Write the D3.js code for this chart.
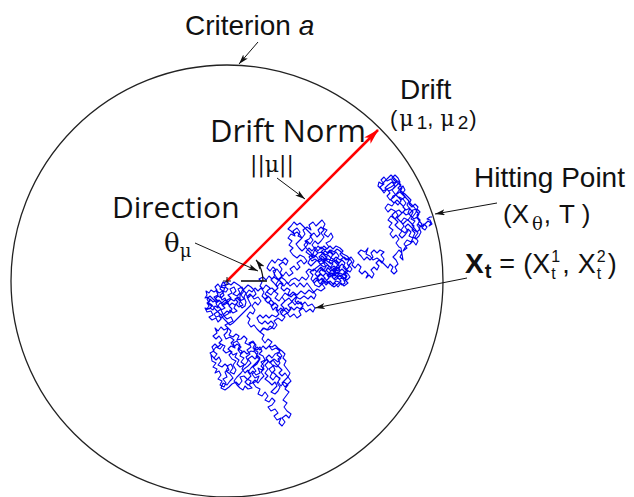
<!DOCTYPE html>
<html>
<head>
<meta charset="utf-8">
<script src="https://cdn.jsdelivr.net/npm/d3@7"></script>
<style>
  body { margin: 0; background: #fff; }
  svg { display: block; }
  text { white-space: pre; }
</style>
</head>
<body>
<svg id="fig" width="634" height="497"></svg>
<script>
// Criterion radius a (walk units), drift vector (mu1, mu2)
const criterion = 216;
const drift = [151, 151];

// Sample path X_t of the 2-D diffusion, from the origin to the boundary hit
const walk = [
  [0,0],[2,-3],[-1,-4],[-4,-1],[-6,-5],[-3,-7],[-7,-6],[-9,-3],[-12,-6],[-10,-9],[-13,-11],[-16,-9],[-18,-12],[-21,-10],[-20,-14],[-22,-17],[-19,-16],[-17,-20],[-20,-22],[-18,-25],[-21,-29],[-17,-27],[-14,-29],[-12,-25],[-9,-27],[-11,-22],[-8,-20],[-12,-18],[-9,-15],[-6,-17],[-3,-14],[-5,-10],[-1,-11],[1,-8],[-2,-6],[-4,-12],[-7,-14],[-5,-19],[-2,-17],[0,-22],[-3,-24],[-7,-22],[-9,-25],[-6,-28],[-10,-31],[-13,-33],[-11,-36],[-8,-35],[-5,-37],[-3,-33],[0,-30],[3,-32],[5,-28],[2,-25],[5,-22],[8,-24],[11,-21],[8,-18],[11,-16],[14,-19],[12,-23],[15,-27],[18,-25],[19,-21],[17,-16],[19,-12],[16,-9],[13,-5],[10,-3],[7,-1],[4,-4],[1,-2],
  [0,0],[-3,-2],[-1,-5],[-5,-4],[-7,-8],[-4,-10],[-8,-12],[-11,-9],[-9,-14],[-13,-16],[-10,-19],[-14,-21],[-17,-18],[-19,-23],[-15,-25],[-18,-28],[-22,-27],[-20,-31],[-16,-30],[-14,-34],[-18,-36],[-15,-39],[-11,-37],[-9,-41],[-6,-38],[-8,-34],[-4,-33],[-6,-29],[-2,-27],[-5,-24],[-1,-21],[2,-24],[0,-19],[4,-17],[1,-14],[5,-12],[3,-8],[7,-6],[9,-10],[6,-13],[10,-15],[13,-12],[11,-8],[15,-6],[17,-10],[14,-14],[17,-18],[13,-20],
  [10,-17],[7,-20],[4,-18],[1,-21],[-2,-19],[-5,-22],[-8,-19],[-11,-21],[-14,-18],[-17,-15],[-20,-18],[-18,-22],[-15,-24],[-12,-28],[-9,-31],[-6,-34],[-3,-38],[0,-41],[3,-44],[6,-42],[9,-39],[12,-36],[15,-33],[18,-30],[21,-27],[24,-24],[22,-20],[20,-16],[23,-13],[26,-16],[29,-13],[27,-9],[24,-6],[21,-4],[18,-7],[15,-10],[13,-14],[13,-20],
  [16,-24],[12,-26],[9,-23],[7,-27],[10,-30],[6,-32],[3,-29],[1,-33],[-3,-35],[0,-38],[4,-36],[6,-40],[2,-42],[-2,-44],[1,-47],
  [4,-50],[2,-54],[6,-56],[9,-53],[12,-55],[10,-59],[14,-58],[17,-55],[20,-58],[18,-62],[22,-64],[25,-61],[28,-63],[26,-67],[30,-69],[33,-66],[35,-70],[32,-73],[36,-75],[38,-79],[34,-81],[37,-85],[35,-89],[31,-87],[33,-92],[29,-94],[26,-90],[23,-93],[21,-89],[18,-92],[15,-88],[17,-84],[13,-86],[10,-83],[12,-79],[8,-76],[10,-72],[6,-74],[3,-70],[-1,-72],[-4,-69],[-2,-65],[-6,-63],[-9,-66],[-12,-63],[-15,-66],[-13,-70],[-17,-72],[-14,-76],[-11,-79],[-8,-76],[-6,-80],[-9,-84],[-5,-86],[-2,-83],[1,-86],[-1,-90],[3,-93],[6,-97],[3,-100],[0,-104],[-4,-102],[-6,-107],[-2,-109],[2,-106],[5,-103],[9,-101],[12,-104],[15,-100],[13,-96],[17,-95],[20,-98],[24,-100],[22,-104],[25,-107],[21,-108],[18,-105],[16,-109],[13,-107],[10,-104],[7,-100],[10,-96],[14,-92],[17,-88],[21,-85],[24,-82],[21,-78],[25,-75],[28,-78],[31,-75],[28,-71],[24,-70],[20,-73],[17,-70],[14,-73],[11,-69],[14,-66],[10,-63],[7,-66],[4,-62],[7,-59],[3,-56],[-1,-58],[-3,-54],[0,-51],[1,-47],
  [-3,-49],[-6,-46],[-9,-50],[-12,-47],[-10,-52],[-14,-55],[-11,-58],[-8,-55],[-5,-59],[-8,-62],[-4,-64],[-7,-68],[-11,-66],[-14,-70],[-10,-73],[-13,-77],[-16,-74],[-15,-80],[-11,-82],[-14,-86],[-10,-88],[-12,-92],[-8,-90],[-6,-94],[-9,-98],[-5,-100],[-7,-104],[-3,-106],[-1,-102],[-4,-98],[0,-96],[-2,-91],[2,-89],[0,-85],[4,-83],[6,-87],[3,-91],[7,-93],[9,-89],[6,-84],[9,-80],[5,-78],[2,-74],[5,-71],[1,-68],[4,-65],[8,-67],[6,-62],[10,-60],[13,-64],[11,-68],[15,-70],[13,-75],[17,-77],[14,-81],[18,-84],[21,-80],[19,-76],[23,-73],[20,-69],[24,-66],[22,-62],[26,-60],[29,-64],[27,-69],[31,-71],[29,-76],[33,-78],[30,-83],[26,-86],[29,-90],[25,-93],[28,-97],[32,-95],[30,-100],[26,-102],
  [29,-106],[33,-108],[31,-113],[35,-115],[38,-111],[41,-115],[38,-119],[42,-121],[45,-117],[48,-120],[45,-124],[41,-126],[44,-130],[48,-128],[51,-132],[47,-135],[50,-139],[54,-137],[52,-142],[55,-145],[58,-141],[55,-137],[59,-134],[62,-137],[64,-133],[60,-130],[57,-126],[60,-122],[56,-119],[59,-115],[62,-111],[58,-108],[61,-104],[57,-101],[54,-105],[51,-101],[53,-97],[49,-95],[46,-99],[43,-96],[45,-92],
  [48,-89],[46,-84],[50,-86],[53,-82],[51,-78],[55,-75],[52,-71],[48,-73],[45,-77],[42,-74],[39,-77],[41,-81],[38,-84],[41,-88],[38,-92],[41,-95],[38,-98],[42,-101],[45,-104],[48,-101],[50,-105],[47,-108],[44,-111],[48,-113],[51,-110],[53,-106],[50,-102],[53,-98],[50,-95],[47,-92],[45,-92],
  [42,-88],[46,-85],[43,-81],[47,-78],[51,-81],[54,-77],[50,-74],[53,-70],[49,-67],[45,-69],[42,-65],
  [39,-68],[36,-65],[33,-69],[30,-66],[27,-70],[30,-74],[33,-77],[30,-81],[27,-84],[24,-87],[21,-91],[24,-95],[21,-98],[18,-101],[21,-104],[25,-102],[28,-99],[31,-102],[34,-98],[37,-95],[34,-91],[37,-88],[34,-85],[37,-81],[40,-78],[43,-82],[46,-79],[49,-83],[52,-86],[55,-89],[52,-92],[55,-95],[58,-92],[61,-96],[58,-99],[55,-102],[58,-106],[61,-103],[64,-100],[61,-96],[63,-92],[60,-88],[57,-84],[59,-80],[56,-77],[58,-73],[55,-70],[51,-67],[48,-64],[45,-66],[42,-65],
  [45,-61],[41,-58],[38,-62],[35,-58],[37,-54],[33,-51],
  [30,-48],[27,-44],[24,-46],[21,-42],[23,-38],[20,-35],[23,-31],[26,-33],[28,-29],[25,-25],[28,-21],[31,-24],[34,-20],[31,-16],[27,-18],[24,-14],[21,-17],[19,-13],[22,-9],[25,-11],[28,-7],[31,-10],[34,-7],[37,-11],[35,-15],[38,-18],[41,-15],[44,-18],[42,-22],[45,-25],[48,-22],[51,-25],[49,-29],[52,-33],[49,-36],[45,-34],[42,-37],[39,-34],[36,-37],[33,-34],[30,-37],[32,-41],[35,-43],[38,-40],[41,-43],[44,-40],[47,-43],[45,-47],[41,-49],[37,-47],[33,-51],
  [36,-47],[40,-49],[43,-45],[47,-48],[50,-44],[47,-40],[51,-37],[55,-40],[58,-36],[54,-33],[57,-29],[61,-32],[64,-28],[61,-24],[65,-21],[62,-17],[58,-20],[55,-16],[52,-20],[48,-17],[51,-13],[47,-10],[44,-14],[40,-11],[43,-7],[39,-4],[36,-8],[33,-5],[35,-1],[32,2],[36,4],[39,1],[42,5],[45,2],[48,6],[46,10],[50,12],[53,8],
  [55,12],[52,16],[56,19],[59,16],[61,20],[58,23],[55,20],[51,22],[48,18],[45,21],[42,17],[40,13],[43,10],[46,14],[49,11],[47,7],[50,3],[53,0],[56,-3],[54,-7],[57,-10],[60,-7],[63,-9],[61,-13],[64,-16],[67,-13],[70,-16],[68,-20],[71,-23],[74,-21],[76,-25],[73,-28],[70,-26],[67,-29],[64,-26],[62,-30],[59,-27],[56,-30],[54,-27],[51,-30],[49,-26],[46,-29],[44,-25],[47,-22],[44,-19],[41,-22],[38,-19],[41,-16],[38,-13],[41,-9],[45,-7],[48,-10],[51,-7],[49,-3],[52,1],[55,4],[53,8],
  [56,5],[59,9],[62,5],[66,8],[63,12],[67,15],[70,11],[73,14],[70,18],[74,21],[77,17],[80,20],[77,24],[73,26],[70,23],[66,26],
  [63,30],[66,33],[62,36],[65,40],[61,43],[64,47],[68,45],[66,50],[70,53],[73,49],[71,45],[75,43],
  [72,40],[69,37],[72,33],[75,30],[78,33],[81,37],[78,40],[82,42],[85,46],[82,49],[79,52],[76,55],[73,58],[70,56],[67,59],[64,55],[61,52],[64,50],[67,47],[70,49],[73,46],[75,43],
  [78,47],[76,51],[80,54],[84,51],[82,56],[86,59],[89,55],[92,58],[95,61],[98,57],[96,53],[100,51],[97,47],[101,44],[104,48],[106,44],[103,40],[99,38],[102,34],[98,31],[94,34],[91,30],[88,34],[85,30],[82,33],[79,29],[83,26],[86,23],
  [84,28],[80,32],[77,36],[80,40],[83,37],[86,41],[83,45],[87,48],[90,44],[93,47],[91,51],[94,54],[97,51],[94,48],[97,44],[94,40],[91,37],[88,40],[85,36],[88,32],[86,27],[86,23],
  [89,25],[92,21],[95,25],[98,22],[101,26],[104,23],
  [106,27],[103,31],[100,28],[97,32],[94,29],[97,26],[100,23],[97,20],[94,23],[91,20],[94,16],[97,14],[101,16],[104,13],[107,15],[110,12],[108,8],[112,9],[115,12],[118,9],[121,7],[123,4],[120,1],[117,3],[114,6],[111,4],[108,6],[105,8],[102,6],[99,8],[96,5],[93,7],[90,4],[92,1],[96,2],[99,-2],[103,0],[106,-3],[109,0],[112,-1],[115,-4],[118,-2],[116,3],[112,2],[109,5],[106,10],[109,14],[112,17],[109,20],[106,22],[104,23],
  [102,19],[106,17],[103,13],[107,10],[110,14],[113,11],[111,7],[114,4],[117,8],[120,5],[118,1],[121,-2],[117,-5],[114,-2],[111,-6],[108,-2],[105,-5],[102,-1],[99,-4],[96,0],[93,-3],[90,1],[87,-2],[84,2],[86,6],[83,9],[87,12],[90,9],[93,13],[96,10],[99,14],[97,18],[93,17],[90,21],[87,18],[84,15],[81,18],[83,22],[87,24],[91,28],[95,29],[99,26],[103,29],[106,26],[109,29],[112,25],[109,21],[112,18],[115,21],[118,18],[116,14],[119,11],[122,14],[120,18],[123,22],[120,25],[116,27],[113,30],[110,32],[107,29],[104,31],[101,28],[98,30],[95,27],[92,24],[95,20],[99,18],[102,15],[99,11],[102,8],[105,11],[108,8],[105,4],[108,1],[111,3],[114,0],[111,-3],[107,-6],[103,-3],[100,0],[97,4],[94,7],[91,4],[88,7],[91,11],[94,14],[97,11],[100,7],[103,4],[106,7],[109,11],[112,14],[115,17],[118,14],[121,10],[117,6],[113,8],[110,5],[107,2],[104,6],[101,2],[98,-1],[95,3],[92,0],[89,3],[86,0],[88,-4],[92,-6],[95,-3],
  [99,0],[102,3],[100,6],[104,8],[107,5],[110,8],[113,5],[116,2],[119,4],[117,8],[120,11],[123,9],[125,12],[122,16],[125,19],[122,23],[119,21],[116,24],[113,27],[116,30],[113,33],[109,35],[106,32],[103,35],[100,32],[97,35],[94,32],[91,35],[88,31],[91,28],[88,25],[85,27],[82,24],[85,20],[88,22],[92,19],[96,22],[100,20],[104,17],[107,20],[110,17],[113,14],[111,10],[107,13],[104,10],[101,13],[98,9],[95,12],[92,9],[95,6],[98,3],[95,0],[95,-3],
  [98,-7],[94,-10],[90,-8],[86,-12],[82,-9],[78,-13],[74,-10],[70,-14],[66,-11],[62,-15],[58,-12],[55,-16],[58,-20],[54,-24],[57,-27],[53,-31],[56,-35],[60,-32],[63,-36],[67,-33],[70,-37],[74,-34],[72,-30],[76,-27],[79,-31],[83,-28],[86,-31],[88,-27],[85,-23],[81,-25],[78,-21],[75,-24],[71,-20],[68,-24],[65,-20],[69,-16],[73,-18],[77,-15],[81,-18],[84,-15],[87,-18],[89,-14],[86,-10],[83,-6],[80,-2],[77,-6],[73,-2],[70,-6],[67,-2],[63,-5],[60,-1],[57,-5],[53,-2],[50,-6],[47,-2],[44,1],[47,4],[51,1],[54,4],[58,1],[61,-3],[64,1],[68,3],[72,0],[75,4],[79,1],[82,5],[79,9],[82,12],[86,10],[89,13],
  [93,16],[97,19],[101,22],[105,20],[109,24],[113,21],[117,24],[121,21],[124,24],[127,20],[125,16],[128,13],[131,17],[134,14],[132,10],[135,7],[138,10],[141,7],[139,3],[142,6],[145,3],[147,7],[144,11],[147,14],[150,11],[152,15],[149,18],[152,21],[155,18],[157,22],[154,26],[157,29],[153,31],[150,28],[147,31],[144,28],[146,24],[143,21],[140,24],[137,21],[134,25],[131,28],[134,31],[138,29],[141,33],[139,27],[143,25],[146,21],[150,23],[154,20],[158,16],[161,13],[163,17],[166,14],[164,10],[167,7],[170,10],[168,14],[171,17],[169,21],[166,24],[169,27],[172,31],[175,28],[173,24],[176,21],[174,33],
  [172,34],[169,38],[172,42],[169,46],[166,43],[163,47],[166,51],[162,54],[165,58],[161,61],[164,65],[168,62],[171,66],[168,70],[164,72],[161,69],[158,73],[161,77],[165,75],[168,79],[171,76],[174,80],[172,84],[176,82],[179,78],[176,74],[179,71],[183,73],[181,68],[184,65],[181,61],
  [184,58],[187,55],[185,51],[188,48],[186,44],[189,42],[192,45],[194,49],[192,53],[195,57],[192,60],[190,66],[193,69],[190,72],[186,71],[183,68],[179,66],[176,69],[173,66],[170,63],[173,60],[176,57],[179,60],[181,61],
  [177,63],[174,59],[177,55],[174,51],[178,48],[181,52],[184,49],[182,45],[186,43],[184,39],[180,41],[177,37],[180,33],[176,30],[179,35],[183,37],[186,40],[189,36],[191,40],[188,44],[191,48],[188,52],[185,56],[188,60],[184,62],[187,66],[190,70],[187,74],[183,78],[180,82],[177,86],[174,90],
  [178,87],[181,84],[184,81],[182,77],[185,74],[188,77],[191,74],[189,70],[192,67],[190,63],[193,60],[190,56],[193,52],[190,49],[187,51],[184,54],[181,57],[178,54],[181,50],[178,46],[175,43],[172,46],[175,50],[171,53],[168,56],[171,59],[168,62],[165,66],[168,69],[172,71],[175,68],[178,71],[176,75],[173,78],[170,81],[167,78],[164,81],[166,85],[170,87],[174,90],
  [171,93],[174,96],[171,100],[167,98],[164,102],[160,100],[157,104],[154,101],[157,97],[153,94],[156,90],[160,92],
  [157,88],[154,92],[151,95],[152,99],[155,97],[158,100],[161,103],[164,106],[167,103],[170,100],[167,96],[164,94],[160,92],
  [163,88],[160,85],[163,81],[167,84],[170,88],[173,92],[176,95],[178,91],[175,87],[178,84],[174,81],[171,84],[168,87],[165,91],[168,95],[165,99],[161,96],[158,93],[162,90],[166,92],[170,96],[173,99],[171,103],[168,106],[165,103],
  [168,100],[172,97],[175,93],[173,89],[176,86],[179,83],[182,80],[180,76],[183,72],[186,69],[184,65],[187,62],[190,64],[193,61],[191,57],[194,54],[197,57],[200,54],[198,51],[195,53],[198,57],[201,60],[204,58],[202,55],[205,57],[203,61],[200,62],[203,64],[205,64]
];

const svg = d3.select("#fig");
const cx = 227, cy = 281, R = 216;

// Scales from walk units (origin at the start point, y up) to the page
const x = d3.scaleLinear().domain([-criterion, criterion]).range([cx - R, cx + R]);
const y = d3.scaleLinear().domain([-criterion, criterion]).range([cy + R, cy - R]);

const sans = "'Liberation Sans', Arial, Helvetica, sans-serif";
const human = "'Open Sans', 'Noto Sans', sans-serif";
const serif = "'DejaVu Serif', 'Liberation Serif', serif";

// Arrowhead markers
const defs = svg.append("defs");
defs.append("marker")
  .attr("id", "headBlack").attr("markerUnits", "userSpaceOnUse")
  .attr("viewBox", "0 0 10 6").attr("refX", 10).attr("refY", 3)
  .attr("markerWidth", 10).attr("markerHeight", 6).attr("orient", "auto")
  .append("path").attr("d", "M0,0 L10,3 L0,6 L2.5,3 Z").attr("fill", "#111");
defs.append("marker")
  .attr("id", "headRed").attr("markerUnits", "userSpaceOnUse")
  .attr("viewBox", "0 0 16 9").attr("refX", 15).attr("refY", 4.5)
  .attr("markerWidth", 16).attr("markerHeight", 9).attr("orient", "auto")
  .append("path").attr("d", "M0,0 L16,4.5 L0,9 L4,4.5 Z").attr("fill", "#ff0000");

// Criterion boundary
svg.append("circle")
  .attr("cx", x(0)).attr("cy", y(0)).attr("r", x(criterion) - x(0))
  .attr("fill", "none").attr("stroke", "#222").attr("stroke-width", 1.3);

// Sample path
svg.append("path")
  .datum(walk)
  .attr("d", d3.line().x(d => x(d[0])).y(d => y(d[1])))
  .attr("fill", "none").attr("stroke", "#0000f0").attr("stroke-width", 1.1)
  .attr("stroke-linejoin", "round");

// Drift vector
svg.append("line")
  .attr("x1", x(0)).attr("y1", y(0)).attr("x2", x(drift[0])).attr("y2", y(drift[1]))
  .attr("stroke", "#ff0000").attr("stroke-width", 2.5)
  .attr("marker-end", "url(#headRed)");

// Start marker and reference direction for the angle
const ox = x(0), oy = y(0);
svg.append("path")
  .attr("d", `M${ox - 4},${oy}H${ox + 4}M${ox},${oy - 4}V${oy + 4}`)
  .attr("stroke", "#111").attr("stroke-width", 1);
svg.append("line")
  .attr("x1", ox + 14).attr("y1", oy).attr("x2", ox + 40).attr("y2", oy)
  .attr("stroke", "#111").attr("stroke-width", 1.6);

// Angle arc theta_mu
const ar = 36, aEnd = 36 * Math.PI / 180;
svg.append("path")
  .attr("d", `M${ox + ar},${oy} A${ar},${ar} 0 0 0 ${ox + ar * Math.cos(aEnd)},${oy - ar * Math.sin(aEnd)}`)
  .attr("fill", "none").attr("stroke", "#111").attr("stroke-width", 1.2)
  .attr("marker-end", "url(#headBlack)");

// Leader arrows
function leader(x1, y1, x2, y2) {
  svg.append("line")
    .attr("x1", x1).attr("y1", y1).attr("x2", x2).attr("y2", y2)
    .attr("stroke", "#111").attr("stroke-width", 1)
    .attr("marker-end", "url(#headBlack)");
}
leader(258, 42, 239, 64);      // Criterion a
leader(277, 178, 305, 199);    // ||mu||
leader(195, 243, 258, 271);    // theta_mu
const hit = walk[walk.length - 1];
leader(497, 203, x(hit[0]) + 3, y(hit[1]) - 3); // hitting point
leader(467, 278, 315, 308);    // X_t

// Text laid out piece by piece, each piece starting where the last ended
function label(px, py, pieces) {
  let cur = px;
  pieces.forEach(p => {
    const t = svg.append("text")
      .attr("x", cur).attr("y", py + (p.dy || 0))
      .attr("font-family", p.family || sans)
      .attr("font-size", p.size)
      .attr("font-style", p.italic ? "italic" : null)
      .attr("font-weight", p.bold ? "bold" : null)
      .attr("fill", "#111")
      .text(p.t);
    cur += t.node().getComputedTextLength() + (p.gap || 0);
  });
  return cur;
}

label(185, 35, [{t: "Criterion", size: 28, gap: 8}, {t: "a", size: 28, italic: true}]);
label(400, 99, [{t: "Drift", size: 28}]);
label(390, 126, [
  {t: "(", size: 22, gap: 2}, {t: "μ", size: 22, family: serif, gap: 3},
  {t: "1", size: 19, dy: 3, gap: 0}, {t: ",", size: 22, gap: 7},
  {t: "μ", size: 22, family: serif, gap: 3}, {t: "2", size: 19, dy: 3, gap: 1},
  {t: ")", size: 22}
]);
label(210, 142, [{t: "Drift Norm", size: 31, family: human}]);
label(250, 172, [{t: "||μ||", size: 22, family: serif}]);
label(112, 218, [{t: "Direction", size: 30, family: human}]);
label(164, 252, [{t: "θ", size: 26, family: serif}, {t: "μ", size: 18, family: serif, dy: 5}]);
label(474, 187, [{t: "Hitting Point", size: 28}]);
label(503, 223, [
  {t: "(X", size: 26, gap: 3}, {t: "θ", size: 18, family: serif, dy: 7, gap: 1},
  {t: ",", size: 26, gap: 8}, {t: "T )", size: 26}
]);

// X_t = (X^1_t, X^2_t)
let cxs = label(465, 273, [{t: "X", size: 28, bold: true, gap: 1}, {t: "t", size: 20, bold: true, dy: 5}]);
cxs = label(cxs + 8, 273, [{t: "=", size: 27, gap: 8}, {t: "(X", size: 27, gap: 1}]);
function supsub(px, sup) {
  svg.append("text").attr("x", px).attr("y", 262).attr("font-family", sans)
    .attr("font-size", 16).attr("fill", "#111").text(sup);
  svg.append("text").attr("x", px).attr("y", 279).attr("font-family", sans)
    .attr("font-size", 16).attr("fill", "#111").text("t");
}
supsub(cxs, "1");
cxs = label(cxs + 11, 273, [{t: ",", size: 27, gap: 8}, {t: "X", size: 27, gap: 1}]);
supsub(cxs, "2");
label(cxs + 11, 273, [{t: ")", size: 27}]);
</script>
</body>
</html>
